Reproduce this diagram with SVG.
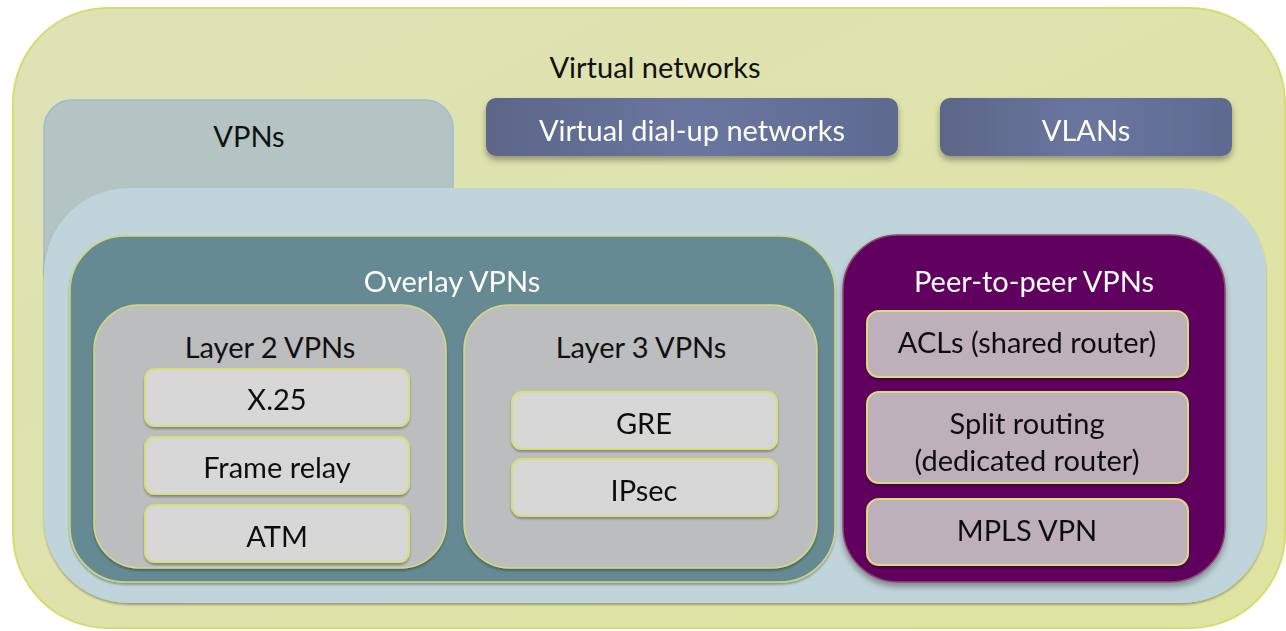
<svg xmlns="http://www.w3.org/2000/svg" width="1286" height="631" viewBox="0 0 1286 631">
<defs>
<linearGradient id="gOuter" x1="0" y1="0" x2="1" y2="1"><stop offset="0" stop-color="#dfe2b6"/><stop offset="1" stop-color="#dfe4a0"/></linearGradient>
<linearGradient id="gBlue" x1="0" y1="0" x2="1" y2="0"><stop offset="0" stop-color="#5c6687"/><stop offset="0.5" stop-color="#6a76a0"/><stop offset="1" stop-color="#5e6a90"/></linearGradient>
<filter id="sh" x="-10%" y="-20%" width="120%" height="150%"><feDropShadow dx="0" dy="4" stdDeviation="3" flood-color="#000" flood-opacity="0.35"/></filter>
<filter id="shs" x="-10%" y="-20%" width="120%" height="150%"><feDropShadow dx="0" dy="2" stdDeviation="1" flood-color="#000" flood-opacity="0.3"/></filter>
</defs>
<style>
text{font-family:Lato,"Open Sans","Liberation Sans",sans-serif;text-anchor:middle;font-size:29px}
.dk{fill:#111}
.wt{fill:#fff}
.item{fill:#d6d7d6;stroke:#d8df78;stroke-width:2}
.pitem{fill:#bdb0ba;stroke:#d8dc80;stroke-width:2}
.grp{fill:#bbbdbe;stroke:#d3da7c;stroke-width:1.5}
</style>
<g id="virtual-networks">
<rect x="13" y="8" width="1272" height="620" rx="95" fill="url(#gOuter)" stroke="#d6dc70" stroke-width="2"/>
<text class="dk" x="655" y="78">Virtual networks</text>
</g>
<g id="vpns">
<rect x="44" y="100" width="409" height="200" rx="28" fill="#b4c4c3" stroke="#9fbad6" stroke-width="1.5"/>
<text class="dk" x="249" y="147">VPNs</text>
</g>
<g id="dialup" filter="url(#sh)">
<rect x="486" y="98" width="412" height="58" rx="10" fill="url(#gBlue)"/>
<text class="wt" x="692" y="141">Virtual dial-up networks</text>
</g>
<g id="vlans" filter="url(#sh)">
<rect x="940" y="98" width="292" height="58" rx="10" fill="url(#gBlue)"/>
<text class="wt" x="1086" y="141">VLANs</text>
</g>
<g id="vpn-container" filter="url(#shs)">
<rect x="44" y="188" width="1222" height="415" rx="85" fill="#c0d5db"/>
</g>
<g id="overlay" filter="url(#shs)">
<rect x="70" y="236" width="765" height="346" rx="55" fill="#658a93" stroke="#cfd67a" stroke-width="1.5"/>
<text class="wt" x="452" y="292">Overlay VPNs</text>
</g>
<g id="layer2">
<rect class="grp" x="94" y="305" width="352" height="263" rx="45" filter="url(#shs)"/>
<text class="dk" x="270" y="358">Layer 2 VPNs</text>
</g>
<g id="x25" filter="url(#shs)">
<rect class="item" x="145" y="369" width="264" height="57" rx="10"/>
<text class="dk" x="277" y="410">X.25</text>
</g>
<g id="frame-relay" filter="url(#shs)">
<rect class="item" x="145" y="437" width="264" height="57" rx="10"/>
<text class="dk" x="277" y="478">Frame relay</text>
</g>
<g id="atm" filter="url(#shs)">
<rect class="item" x="145" y="505" width="264" height="57" rx="10"/>
<text class="dk" x="277" y="547">ATM</text>
</g>
<g id="layer3">
<rect class="grp" x="464" y="305" width="353" height="263" rx="45" filter="url(#shs)"/>
<text class="dk" x="641" y="358">Layer 3 VPNs</text>
</g>
<g id="gre" filter="url(#shs)">
<rect class="item" x="512" y="392" width="265" height="57" rx="10"/>
<text class="dk" x="644" y="434">GRE</text>
</g>
<g id="ipsec" filter="url(#shs)">
<rect class="item" x="512" y="459" width="265" height="57" rx="10"/>
<text class="dk" x="644" y="501">IPsec</text>
</g>
<g id="peer" filter="url(#sh)">
<rect x="843" y="235" width="382" height="347" rx="55" fill="#61005e" stroke="#8a4a70" stroke-width="1.5"/>
<text class="wt" x="1034" y="292">Peer-to-peer VPNs</text>
</g>
<g id="acls" filter="url(#shs)">
<rect class="pitem" x="867" y="311" width="321" height="66" rx="12"/>
<text class="dk" x="1027" y="353">ACLs (shared router)</text>
</g>
<g id="split" filter="url(#shs)">
<rect class="pitem" x="867" y="392" width="321" height="91" rx="12"/>
<text class="dk" x="1027" y="434">Split routing</text>
<text class="dk" x="1027" y="471">(dedicated router)</text>
</g>
<g id="mpls" filter="url(#shs)">
<rect class="pitem" x="867" y="499" width="321" height="66" rx="12"/>
<text class="dk" x="1027" y="541">MPLS VPN</text>
</g>
<g id="connectors"/>
</svg>
